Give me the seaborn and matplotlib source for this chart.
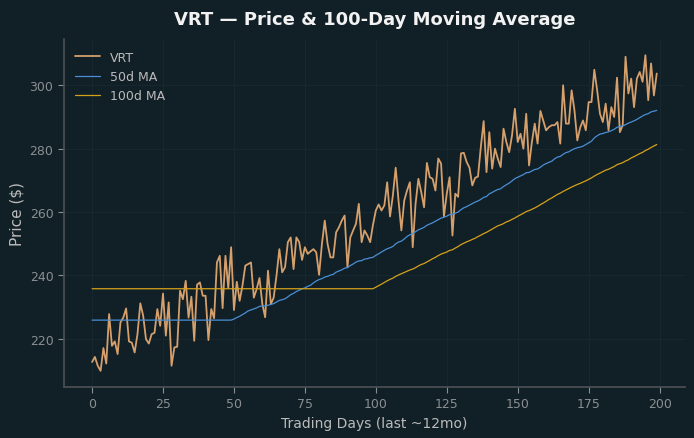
import numpy as np
import pandas as pd
import seaborn as sns
import matplotlib
matplotlib.use("Agg")
import matplotlib.pyplot as plt

# closing prices (200 trading days)
prices_0_49 = [
    212.7, 214.3, 211.5, 209.9, 217.1, 212.2, 227.8, 217.8, 219.2, 215.2,
    225.2, 226.7, 229.6, 219.2, 218.8, 215.7, 221.5, 231.2, 227.3, 219.9,
    218.5, 221.5, 221.9, 229.4, 224.1, 234.3, 221.0, 231.5, 211.5, 217.3,
    217.5, 235.2, 232.5, 238.3, 226.7, 233.3, 219.4, 237.1, 237.8, 233.6,
    233.6, 219.6, 229.4, 226.5, 244.1, 246.2, 229.7, 246.2, 236.0, 248.9,
]
prices_50_99 = [
    229.1, 238.0, 232.0, 236.8, 243.1, 243.6, 244.1, 233.0, 235.7, 239.2,
    231.0, 226.8, 241.5, 231.0, 233.0, 240.0, 248.3, 241.0, 242.6, 250.5,
    252.0, 242.0, 252.0, 250.5, 244.9, 248.9, 246.8, 247.6, 248.3, 247.3,
    240.2, 249.9, 257.3, 249.9, 245.7, 245.7, 253.6, 255.2, 257.3, 258.9,
    242.6, 252.0, 254.2, 256.3, 262.6, 250.5, 254.2, 252.6, 250.5, 256.0,
]
prices_100_149 = [
    260.5, 262.4, 260.5, 262.1, 269.4, 258.6, 265.2, 274.0, 263.6, 254.2,
    263.6, 266.8, 269.4, 248.9, 262.6, 270.5, 266.3, 261.5, 275.5, 271.0,
    270.5, 266.8, 276.9, 275.3, 258.6, 265.8, 271.0, 252.6, 265.8, 264.8,
    278.5, 278.7, 275.8, 274.0, 268.4, 270.8, 271.2, 280.5, 288.7, 272.6,
    285.2, 273.7, 280.0, 276.8, 274.2, 286.3, 282.1, 278.9, 284.2, 292.6,
]
prices_150_199 = [
    282.1, 284.7, 280.0, 291.0, 274.7, 282.1, 287.9, 281.6, 291.9, 288.9,
    285.8, 286.8, 287.4, 287.4, 288.4, 281.6, 300.0, 287.9, 287.9, 298.4,
    292.1, 282.6, 286.6, 288.9, 285.8, 294.7, 294.7, 304.9, 298.4, 291.0,
    288.4, 294.2, 285.8, 293.1, 290.0, 302.4, 285.2, 287.4, 309.0, 297.4,
    302.1, 293.1, 302.1, 304.2, 301.1, 309.5, 295.3, 306.9, 296.8, 303.7,
]
prices = prices_0_49 + prices_50_99 + prices_100_149 + prices_150_199

df = pd.DataFrame({"day": np.arange(len(prices)), "VRT": prices})
# moving averages, back-filled before the window is full
df["ma50"] = df["VRT"].rolling(50).mean().bfill()
df["ma100"] = df["VRT"].rolling(100).mean().bfill()

bg = "#111f26"
sns.set_theme(style="darkgrid", rc={
    "figure.facecolor": bg,
    "axes.facecolor": bg,
    "axes.edgecolor": "#4a4f52",
    "grid.color": "#172830",
    "grid.linewidth": 0.7,
    "text.color": "#eeeeee",
    "axes.labelcolor": "#bbbbbb",
    "xtick.color": "#8a8f92",
    "ytick.color": "#8a8f92",
    "xtick.bottom": True,
    "ytick.left": True,
})

fig, ax = plt.subplots(figsize=(6.94, 4.39), dpi=100)
sns.lineplot(data=df, x="day", y="VRT", ax=ax, color="#d6a06c", linewidth=1.3, label="VRT")
sns.lineplot(data=df, x="day", y="ma50", ax=ax, color="#4a8fd6", linewidth=0.9, label="50d MA")
sns.lineplot(data=df, x="day", y="ma100", ax=ax, color="#d4a21a", linewidth=0.9, label="100d MA")

ax.set_title("VRT — Price & 100-Day Moving Average", fontsize=13, fontweight="bold",
             color="#f2f2f2", pad=11)
ax.set_xlabel("Trading Days (last ~12mo)", fontsize=10)
ax.set_ylabel("Price ($)", fontsize=11)
ax.tick_params(labelsize=9, length=4, width=0.8, colors="#8a8f92")
ax.set_xticks([0, 25, 50, 75, 100, 125, 150, 175, 200])
ax.set_yticks([220, 240, 260, 280, 300])
sns.despine(ax=ax)
ax.spines["left"].set_color("#4a4f52")
ax.spines["bottom"].set_color("#4a4f52")

leg = ax.legend(loc="upper left", frameon=False, fontsize=9)
for t in leg.get_texts():
    t.set_color("#bbbbbb")

fig.subplots_adjust(left=0.092, right=0.987, top=0.908, bottom=0.117)
fig.savefig("out.png", dpi=100, facecolor=bg)
